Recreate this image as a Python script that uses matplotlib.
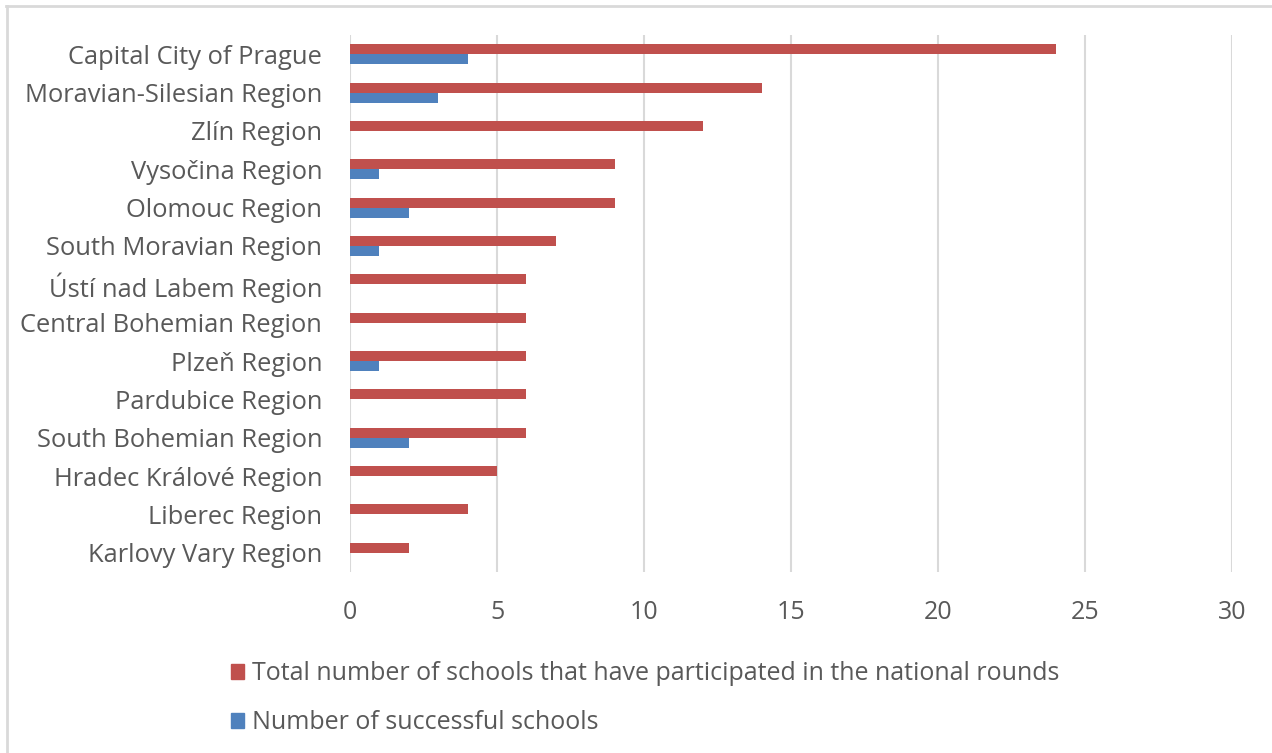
import matplotlib.pyplot as plt
from matplotlib.lines import Line2D
from matplotlib.patches import Patch

# Regions, top to bottom as shown in the chart
regions = [
    "Capital City of Prague",
    "Moravian-Silesian Region",
    "Zlín Region",
    "Vysočina Region",
    "Olomouc Region",
    "South Moravian Region",
    "Ústí nad Labem Region",
    "Central Bohemian Region",
    "Plzeň Region",
    "Pardubice Region",
    "South Bohemian Region",
    "Hradec Králové Region",
    "Liberec Region",
    "Karlovy Vary Region",
]
total_schools = [24, 14, 12, 9, 9, 7, 6, 6, 6, 6, 6, 5, 4, 2]
successful_schools = [4, 3, 0, 1, 2, 1, 0, 0, 1, 0, 2, 0, 0, 0]
x_ticks = [0, 5, 10, 15, 20, 25, 30]

red = "#C0504D"
blue = "#4F81BD"
text_grey = "#595959"
grid_grey = "#D9D9D9"

plt.rcParams["font.family"] = ["Open Sans", "DejaVu Sans"]

fig = plt.figure(figsize=(12.72, 7.53), dpi=100)
ax = fig.add_axes([350 / 1272, 1 - 572 / 753, 882 / 1272, 537 / 753])

pos = list(range(len(regions)))
bh = 0.26
ax.barh([p - bh / 2 for p in pos], total_schools, height=bh, color=red, zorder=3)
ax.barh([p + bh / 2 for p in pos], successful_schools, height=bh, color=blue, zorder=3)

ax.set_ylim(len(regions) - 0.5, -0.5)
ax.set_xlim(0, 30)
ax.set_xticks(x_ticks)
ax.set_yticks(pos)
ax.set_yticklabels(regions)
ax.tick_params(axis="both", length=0, labelsize=18, colors=text_grey)
ax.tick_params(axis="x", pad=20)
ax.tick_params(axis="y", labelsize=18.4, pad=20)
ax.grid(axis="x", color=grid_grey, linewidth=1.5, zorder=0)
for s in ax.spines.values():
    s.set_visible(False)

handles = [Patch(color=red), Patch(color=blue)]
labels = ["Total number of schools that have participated in the national rounds",
          "Number of successful schools"]
fig.legend(handles, labels, loc="upper left", bbox_to_anchor=(218 / 1272, 1 - 649 / 753),
           frameon=False, fontsize=18, labelcolor=text_grey, handlelength=0.55,
           handleheight=0.55, handletextpad=0.3, labelspacing=0.95, borderpad=0)

# chart border
fig.add_artist(Line2D([6 / 1272, 1], [1 - 6 / 753, 1 - 6 / 753], color=grid_grey, linewidth=2))
fig.add_artist(Line2D([7 / 1272, 7 / 1272], [0, 1 - 6 / 753], color=grid_grey, linewidth=2))

fig.savefig("out.png", dpi=100)
